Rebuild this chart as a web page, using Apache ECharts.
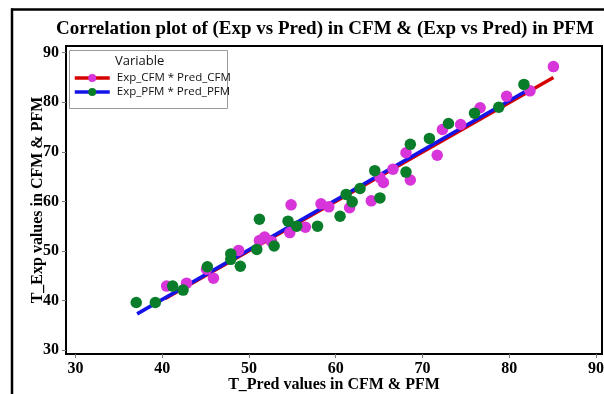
<!DOCTYPE html>
<html><head><meta charset="utf-8">
<script src="https://cdn.jsdelivr.net/npm/echarts@6/dist/echarts.min.js"></script>
<style>html,body{margin:0;padding:0;background:#fff}#c{width:604px;height:394px}</style>
</head><body><div id="c"></div>
<script>
const titleText = 'Correlation plot of (Exp vs Pred) in CFM & (Exp vs Pred) in PFM';
const xName = 'T_Pred values in CFM & PFM';
const yName = 'T_Exp values in CFM & PFM';
const legendTitle = 'Variable';
const seriesNames = ['Exp_CFM * Pred_CFM', 'Exp_PFM * Pred_PFM'];
const xTicks = [30, 40, 50, 60, 70, 80, 90];
const yTicks = [30, 40, 50, 60, 70, 80, 90];

const cfmPred = [40.5, 42.8, 45.1, 45.9, 48.8, 51.2, 51.8, 52.6, 54.7, 54.85, 56.5, 58.3, 59.2, 61.6, 64.1, 65.1, 65.5, 66.6, 68.1, 68.6, 71.7, 72.3, 74.4, 76.65, 79.7, 82.4, 85.1];
const cfmExp  = [42.9, 43.5, 46.3, 44.5, 50.1, 52.1, 52.8, 51.9, 53.7, 59.3, 54.8, 59.5, 58.9, 58.7, 60.1, 64.8, 63.8, 66.5, 69.8, 64.3, 69.3, 74.5, 75.5, 78.9, 81.2, 82.3, 87.2];

const pfmPred = [37.0, 39.2, 41.2, 42.4, 45.2, 47.9, 47.9, 49.0, 50.9, 51.2, 52.9, 54.5, 55.5, 57.9, 60.5, 61.2, 61.9, 62.8, 64.5, 65.1, 68.1, 68.6, 70.8, 73.0, 76.0, 78.8, 81.7];
const pfmExp  = [39.6, 39.6, 42.9, 42.1, 46.8, 49.4, 48.3, 46.9, 50.3, 56.4, 51.0, 56.0, 55.0, 55.0, 57.0, 61.4, 59.9, 62.6, 66.2, 60.7, 65.9, 71.5, 72.7, 75.7, 77.8, 79.0, 83.6];

const cfmFitPred = [40.3, 85.1];
const cfmFitExp  = [40.35, 85.0];
const pfmFitPred = [37.1, 81.8];
const pfmFitExp  = [37.3, 82.1];

const magenta = '#D735DA';
const green = '#0A7D2B';
const red = '#D50000';
const blue = '#1414E8';
const serif = '"Liberation Serif", "Times New Roman", serif';
const sans = '"Open Sans", "Noto Sans", sans-serif';

const zip = (a, b) => a.map((v, i) => [v, b[i]]);

const chart = echarts.init(document.getElementById('c'), null, {renderer: 'canvas'});
chart.setOption({
  animation: false,
  backgroundColor: '#fff',
  grid: {left: 66, right: 2, top: 46, bottom: 40, show: true, borderColor: '#000', borderWidth: 2, outerBoundsMode: 'none', containLabel: false},
  xAxis: {
    type: 'value', min: 28.9, max: 90.7,
    name: xName, nameLocation: 'middle', nameGap: 23, nameMoveOverlap: false,
    nameTextStyle: {fontFamily: serif, fontWeight: 'bold', fontSize: 16, color: '#000'},
    axisLine: {show: true, onZero: false, lineStyle: {color: '#000', width: 2}},
    axisTick: {show: true, customValues: xTicks, length: 4, lineStyle: {color: '#777', width: 1}},
    axisLabel: {customValues: xTicks, margin: 7, fontFamily: serif, fontWeight: 'bold', fontSize: 16, color: '#000'},
    splitLine: {show: false}
  },
  yAxis: {
    type: 'value', min: 29.2, max: 91.35,
    name: yName, nameLocation: 'middle', nameGap: 20, nameRotate: 90, nameMoveOverlap: false,
    nameTextStyle: {fontFamily: serif, fontWeight: 'bold', fontSize: 16, color: '#000'},
    axisLine: {show: true, onZero: false, lineStyle: {color: '#000', width: 2}},
    axisTick: {show: true, customValues: yTicks, length: 4, lineStyle: {color: '#777', width: 1}},
    axisLabel: {customValues: yTicks, margin: 7, fontFamily: serif, fontWeight: 'bold', fontSize: 16, color: '#000'},
    splitLine: {show: false}
  },
  legend: {
    data: seriesNames, orient: 'vertical', left: 73, top: 71, padding: 0, z: 20,
    itemWidth: 35, itemHeight: 10, itemGap: 0,
    lineStyle: {width: 3.5},
    textStyle: {fontFamily: sans, fontSize: 11.5, color: '#111', lineHeight: 14, padding: [0, 0, 0, 2]},
    selectedMode: false
  },
  graphic: [
    {type: 'line', shape: {x1: 11, y1: 9.5, x2: 604, y2: 9.5}, style: {stroke: '#000', lineWidth: 2.5}, z: 10},
    {type: 'line', shape: {x1: 12, y1: 8.5, x2: 12, y2: 394}, style: {stroke: '#000', lineWidth: 2.5}, z: 10},
    {type: 'text', x: 325, y: 29.5, style: {text: titleText, align: 'center', verticalAlign: 'middle', font: 'bold 19px ' + serif, fill: '#000'}},
    {type: 'rect', shape: {x: 69.5, y: 50.5, width: 158, height: 58}, style: {fill: '#fff', stroke: '#9a9a9a', lineWidth: 1}, z: 8},
    {type: 'text', x: 115, y: 61.5, style: {text: legendTitle, verticalAlign: 'middle', font: '13px ' + sans, fill: '#111'}, z: 21}
  ],
  series: [
    {name: seriesNames[0], type: 'line', data: zip(cfmFitPred, cfmFitExp), symbol: 'circle', showSymbol: false, lineStyle: {color: red, width: 3.5}, itemStyle: {color: magenta}, z: 2, silent: true},
    {name: seriesNames[1], type: 'line', data: zip(pfmFitPred, pfmFitExp), symbol: 'circle', showSymbol: false, lineStyle: {color: blue, width: 3.5}, itemStyle: {color: green}, z: 3, silent: true},
    {name: seriesNames[0], type: 'scatter', data: zip(cfmPred, cfmExp), symbol: 'circle', symbolSize: 11.5, itemStyle: {color: magenta, opacity: 1}, z: 4},
    {name: seriesNames[1], type: 'scatter', data: zip(pfmPred, pfmExp), symbol: 'circle', symbolSize: 11.5, itemStyle: {color: green, opacity: 1}, z: 5}
  ]
});
</script></body></html>
